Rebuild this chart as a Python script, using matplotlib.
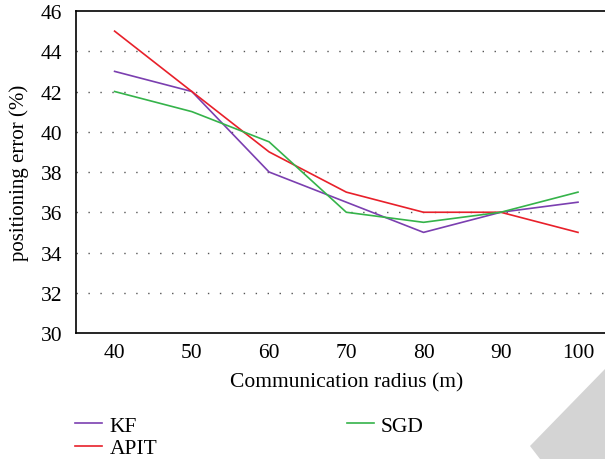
import matplotlib.pyplot as plt
from matplotlib.patches import Polygon

radius = [40, 50, 60, 70, 80, 90, 100]
kf = [43, 42, 38, 36.5, 35, 36, 36.5]
apit = [45, 42, 39, 37, 36, 36, 35]
sgd = [42, 41, 39.5, 36, 35.5, 36, 37]

plt.rcParams['font.family'] = ['Liberation Serif', 'DejaVu Serif']

fig = plt.figure(figsize=(6.05, 4.6), dpi=100)
# axes runs past the right edge, as in the original crop
ax = fig.add_axes([0.1256, 0.2739, 0.8936, 0.7])

ax.plot(radius, kf, color='#7b3fb0', linewidth=1.2, label='KF')
ax.plot(radius, apit, color='#e8202a', linewidth=1.2, label='APIT')
ax.plot(radius, sgd, color='#35b34a', linewidth=1.2, label='SGD')

ax.set_xlim(35, 105)
ax.set_ylim(30, 46)
ax.set_xticks(radius)
ax.set_yticks(range(30, 47, 2))
ax.tick_params(axis='x', length=0, labelsize=15.5, pad=7.5)
ax.tick_params(axis='y', length=0, labelsize=15.5, pad=10)

for y in range(32, 46, 2):
    ax.axhline(y, color='#555555', linewidth=1.0, linestyle=(0, (1, 7.6)), zorder=0)

ax.spines['right'].set_visible(False)
for s in ['left', 'top', 'bottom']:
    ax.spines[s].set_linewidth(1.2)

ax.set_xlabel('Communication radius (m)', fontsize=15.5, labelpad=7)
ax.set_ylabel('positioning error (%)', fontsize=15, labelpad=8)

h, l = ax.get_legend_handles_labels()
fig.legend(h, l, loc='upper left', bbox_to_anchor=(0.124, 0.094), ncol=2,
           frameon=False, fontsize=15.5, handlelength=1.25, handletextpad=0.35,
           columnspacing=8.8, labelspacing=0.12, borderpad=0, borderaxespad=0)

# watermark stripe
W, H = 605.0, 460.0
pts = [(530 / W, 13 / H), (605 / W, 90 / H), (605 / W, 0), (540 / W, 0)]
fig.patches.append(Polygon(pts, closed=True, transform=fig.transFigure,
                           facecolor='#d4d4d4', edgecolor='none', zorder=-1))

fig.savefig('out.png', dpi=100)
